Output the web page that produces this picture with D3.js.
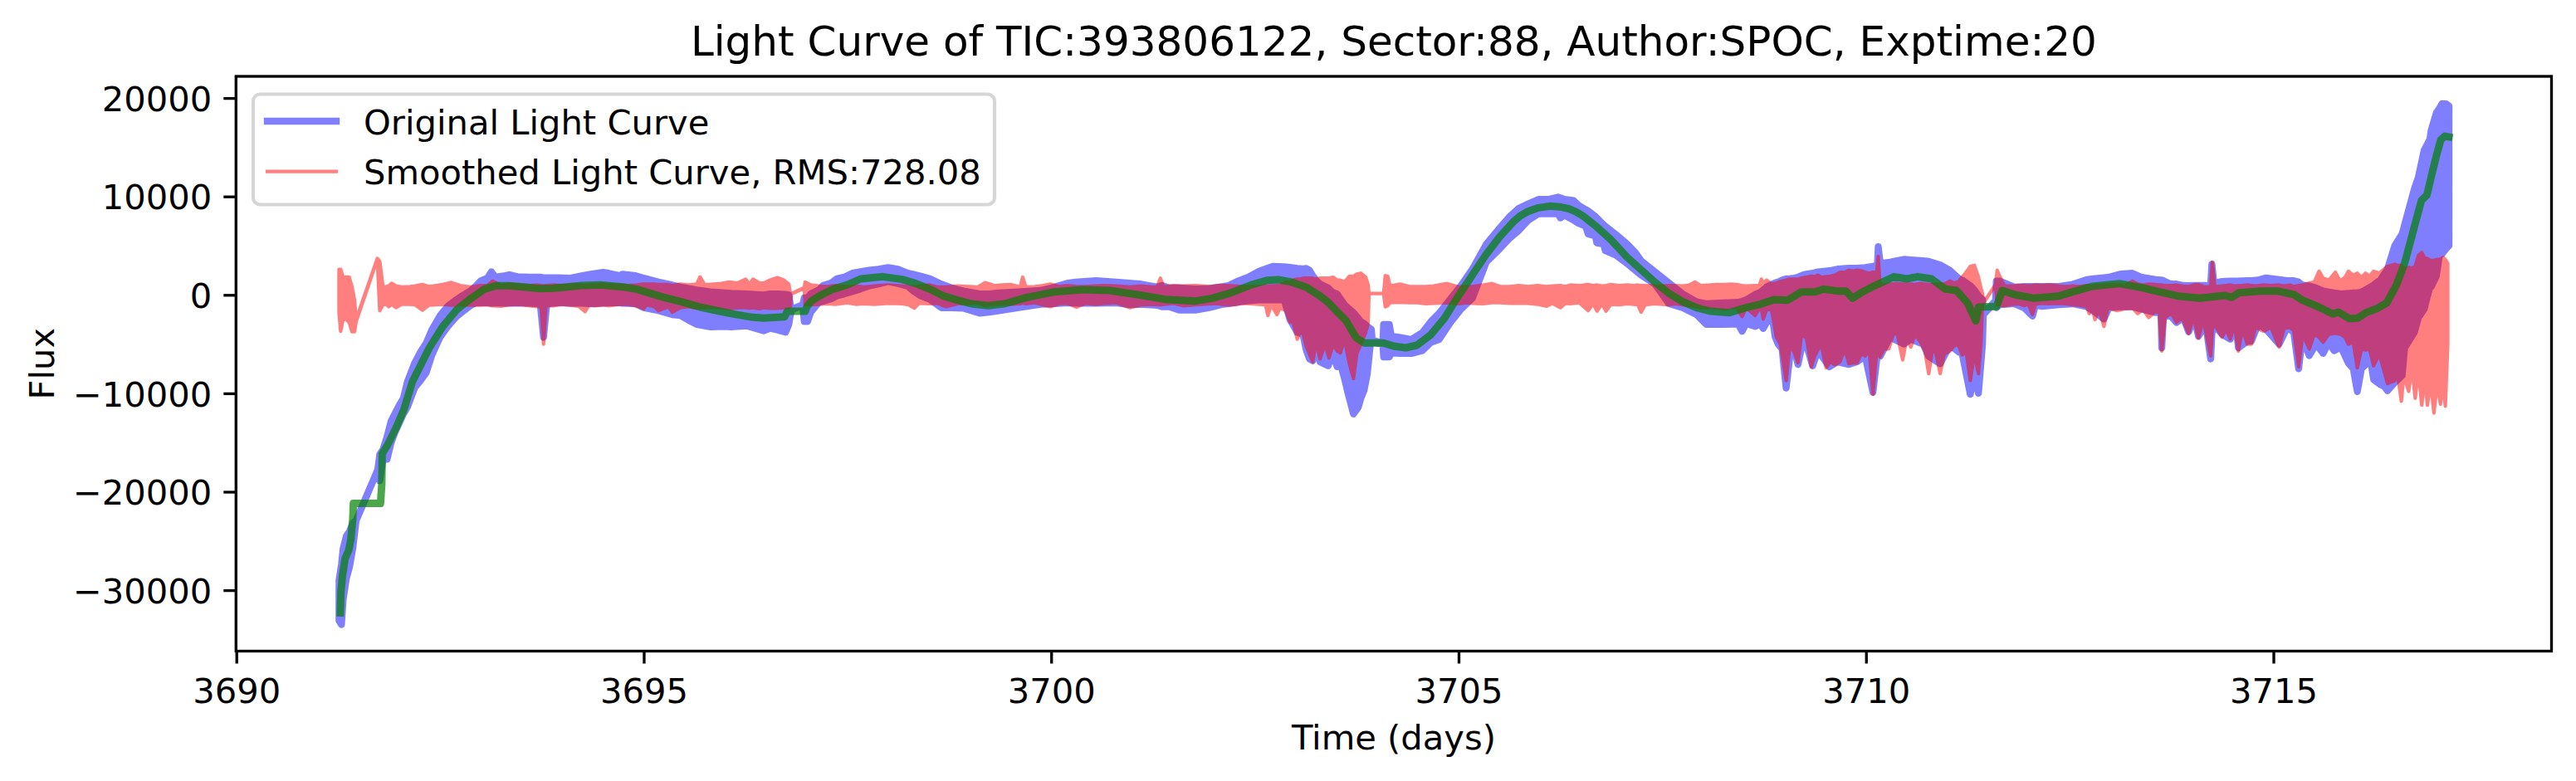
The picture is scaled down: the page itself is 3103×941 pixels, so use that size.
<!DOCTYPE html>
<html><head><meta charset="utf-8">
<script src="https://cdn.jsdelivr.net/npm/d3@7"></script>
<style>html,body{margin:0;background:#fff}svg{display:block}text{font-family:"DejaVu Sans";fill:#000}</style>
</head><body><svg id="c" width="3103" height="941"></svg>
<script>
const titleText="Light Curve of TIC:393806122, Sector:88, Author:SPOC, Exptime:20";
const xLabel="Time (days)", yLabel="Flux";
const legendLabels=["Original Light Curve","Smoothed Light Curve, RMS:728.08"];
const xTicks=[3690,3695,3700,3705,3710,3715];
const yTicks=[-30000,-20000,-10000,0,10000,20000];
// [time, upper envelope, lower envelope]
const blueBand=[[3691.26,-29000,-33100],[3691.29,-27400,-33500],[3691.31,-25800,-31000],[3691.35,-24500,-28800],[3691.39,-24000,-27600],[3691.43,-23200,-25700],[3691.47,-22900,-22950],[3691.735,-17750,-17800],[3691.76,-16200,-18900],[3691.8,-15700,-16700],[3691.85,-14400,-16700],[3691.9,-12800,-15000],[3691.95,-12000,-13900],[3692,-11200,-13000],[3692.05,-10500,-12100],[3692.1,-8800,-11400],[3692.19,-6900,-9400],[3692.26,-5800,-8700],[3692.33,-4900,-7900],[3692.4,-3540,-6100],[3692.5,-2100,-4300],[3692.6,-1100,-3150],[3692.7,-500,-2200],[3692.77,-100,-1740],[3692.87,390,-1100],[3692.94,900,-800],[3693,1430,-800],[3693.08,1700,-800],[3693.13,2350,-850],[3693.18,1800,-800],[3693.3,1950,-850],[3693.35,2050,-850],[3693.45,1850,-850],[3693.6,1800,-850],[3693.73,1800,-900],[3693.77,1750,-4300],[3693.81,1750,-900],[3693.95,1750,-800],[3694.1,1700,-850],[3694.25,1950,-850],[3694.35,2100,-900],[3694.5,2300,-850],[3694.57,2200,-800],[3694.7,1950,-800],[3694.74,2100,-850],[3694.9,1950,-900],[3695,1700,-1300],[3695.18,1300,-1600],[3695.35,1000,-2000],[3695.45,800,-2100],[3695.58,600,-2700],[3695.65,500,-3000],[3695.82,300,-3250],[3696,200,-3200],[3696.07,150,-3260],[3696.27,100,-3150],[3696.47,0,-3650],[3696.55,100,-3400],[3696.64,100,-3550],[3696.74,50,-3800],[3696.78,0,-3000],[3696.8,-1000,-2000],[3696.82,-1450,-1500],[3696.95,-1000,-1050],[3696.97,-300,-2700],[3697.01,-300,-2700],[3697.05,100,-1750],[3697.15,500,-750],[3697.2,950,-650],[3697.3,1200,-400],[3697.37,1650,-100],[3697.46,1800,100],[3697.56,2200,350],[3697.66,2350,600],[3697.76,2500,900],[3697.88,2600,1100],[3698,2770,1350],[3698.12,2600,1150],[3698.24,2200,900],[3698.3,2100,450],[3698.4,1900,-100],[3698.51,1650,-450],[3698.65,1100,-1300],[3698.78,700,-1300],[3698.92,400,-1350],[3699.12,100,-1850],[3699.24,100,-1750],[3699.36,200,-1600],[3699.6,300,-1300],[3699.87,450,-950],[3700,700,-900],[3700.21,1200,-800],[3700.3,1300,-850],[3700.55,1450,-850],[3700.8,1300,-800],[3700.96,1200,-1000],[3701.1,1100,-950],[3701.3,800,-1050],[3701.36,950,-1200],[3701.45,700,-1200],[3701.57,700,-1550],[3701.77,600,-1550],[3701.94,650,-1300],[3702.11,850,-950],[3702.18,950,-900],[3702.28,1360,-750],[3702.42,1800,-600],[3702.55,2400,-500],[3702.72,2900,-500],[3702.86,2850,-500],[3702.93,2800,-2500],[3703.02,2700,-3800],[3703.09,2650,-4000],[3703.13,2680,-5600],[3703.17,2500,-6500],[3703.21,1950,-6700],[3703.25,1500,-5000],[3703.3,1100,-6800],[3703.4,700,-7200],[3703.45,300,-6000],[3703.51,90,-7300],[3703.55,-400,-7000],[3703.6,-1000,-8500],[3703.64,-1300,-9900],[3703.71,-1800,-12100],[3703.77,-2400,-11400],[3703.8,-2700,-10500],[3703.84,-2900,-9700],[3703.88,-3200,-8000],[3703.93,-3500,-4000],[3703.94,-4600,-4800],[3704.07,-4900,-5000],[3704.08,-3000,-6300],[3704.15,-3000,-6300],[3704.175,-4200,-5900],[3704.285,-4320,-5950],[3704.42,-4540,-5950],[3704.555,-3840,-5670],[3704.66,-2710,-4820],[3704.76,-1870,-4540],[3704.895,-470,-2860],[3705.03,940,-1440],[3705.17,2620,-330],[3705.34,5150,3330],[3705.51,6840,4730],[3705.62,7900,5700],[3705.74,8800,6560],[3705.85,9230,7540],[3705.98,9700,8240],[3706.12,9730,8240],[3706.22,9930,8240],[3706.25,9850,7820],[3706.3,9700,8100],[3706.41,9590,7600],[3706.475,9090,7260],[3706.56,8670,6980],[3706.59,8530,6190],[3706.68,7960,6000],[3706.695,7820,5290],[3706.78,7120,5150],[3706.8,6980,4500],[3706.93,6140,4030],[3707.07,5150,3180],[3707.17,4300,2480],[3707.24,3470,2000],[3707.41,2340,1100],[3707.58,1220,-890],[3707.75,100,-1310],[3707.92,-700,-2010],[3708.04,-900,-3000],[3708.26,-800,-3000],[3708.43,-750,-2950],[3708.48,-650,-3700],[3708.53,-500,-2900],[3708.64,50,-3200],[3708.7,240,-2950],[3708.74,500,-3420],[3708.78,800,-2800],[3708.85,1100,-2300],[3708.885,1220,-4260],[3708.92,1300,-4960],[3708.97,1500,-5500],[3709.02,1640,-9460],[3709.07,1650,-5900],[3709.12,1700,-5500],[3709.165,1800,-7070],[3709.24,2060,-4200],[3709.345,2200,-7210],[3709.41,2340,-5660],[3709.55,2450,-7300],[3709.65,2620,-6790],[3709.79,2700,-7070],[3709.89,2720,-6790],[3709.99,2770,-6200],[3710.085,2900,-9900],[3710.14,3000,-6000],[3710.15,4900,-6000],[3710.175,3200,-6230],[3710.295,3330,-4300],[3710.465,3610,-5000],[3710.55,3550,-4500],[3710.7,3470,-5000],[3710.77,3400,-6230],[3710.91,3050,-7000],[3711.03,2480,-5100],[3711.14,1640,-5800],[3711.18,1500,-5950],[3711.28,940,-10100],[3711.33,500,-8000],[3711.38,-100,-10000],[3711.43,-470,-5000],[3711.44,-1900,-2000],[3711.59,-600,-700],[3711.6,1400,-1300],[3711.64,1400,-1000],[3711.82,800,-890],[3711.94,850,-1310],[3712.044,850,-2150],[3712.08,850,-1000],[3712.16,850,-1170],[3712.366,850,-1000],[3712.54,1080,-900],[3712.71,1557,-1200],[3712.81,1650,-1750],[3712.92,1750,-2450],[3712.98,1800,-1300],[3713.13,2120,-1200],[3713.27,2200,-1200],[3713.385,1780,-1450],[3713.555,1550,-1800],[3713.62,1500,-1800],[3713.63,1500,-5384],[3713.65,1450,-2300],[3713.725,1136,-2000],[3713.81,1100,-2800],[3713.895,950,-2300],[3713.96,940,-3750],[3714.03,950,-2300],[3714.08,950,-4200],[3714.17,950,-3000],[3714.23,1000,-6510],[3714.245,3130,-4000],[3714.27,1200,-3000],[3714.37,1360,-4000],[3714.47,1400,-4500],[3714.54,1400,-3000],[3714.57,1400,-5380],[3714.68,1445,-4700],[3714.73,1445,-4700],[3714.81,1500,-3000],[3714.91,1726,-3500],[3715.07,1550,-5000],[3715.17,1450,-3300],[3715.25,1440,-3800],[3715.31,1300,-7500],[3715.355,1000,-4300],[3715.44,900,-6170],[3715.525,700,-5000],[3715.61,400,-5950],[3715.68,300,-4800],[3715.745,200,-5665],[3715.83,100,-5300],[3715.92,150,-6930],[3715.98,200,-7500],[3716.03,200,-9825],[3716.08,300,-7500],[3716.13,500,-7100],[3716.19,800,-6500],[3716.23,1000,-8615],[3716.31,1500,-9100],[3716.36,2100,-9300],[3716.4,2625,-9740],[3716.49,5013,-8900],[3716.58,6200,-8200],[3716.61,7120,-5400],[3716.73,10774,-3800],[3716.78,12000,-2300],[3716.85,14708,-1450],[3716.92,15800,800],[3716.935,16675,800],[3717,18500,1900],[3717.04,19000,4170],[3717.07,19430,4170],[3717.12,19400,4700],[3717.155,19200,5010]];
const redBand=[[3691.26,2600,-1800],[3691.28,2600,-3700],[3691.31,1800,-2500],[3691.35,1800,-2500],[3691.385,1800,-2800],[3691.42,800,-3750],[3691.45,-500,-3750],[3691.47,-2500,-2700],[3691.73,3700,3600],[3691.76,3400,-1600],[3691.8,800,-1000],[3691.84,850,-950],[3691.87,900,-1200],[3691.905,1180,-950],[3691.96,900,-1300],[3692.03,800,-950],[3692.13,850,-950],[3692.19,900,-1000],[3692.285,1050,-1550],[3692.36,850,-1050],[3692.45,950,-1000],[3692.53,1050,-950],[3692.64,1260,-1050],[3692.75,950,-1000],[3692.87,800,-1050],[3693,950,-1050],[3693.08,950,-1000],[3693.145,1400,-1100],[3693.25,950,-1150],[3693.35,1100,-1000],[3693.48,1000,-950],[3693.6,950,-1100],[3693.7,1000,-1200],[3693.74,950,-1100],[3693.77,900,-5000],[3693.8,950,-1100],[3693.89,1000,-1100],[3694,950,-950],[3694.095,1000,-1050],[3694.2,1000,-1150],[3694.28,950,-1700],[3694.33,1000,-1000],[3694.4,1000,-1100],[3694.5,1100,-1000],[3694.57,1000,-1100],[3694.7,1000,-950],[3694.8,950,-950],[3694.91,1000,-1100],[3695,1100,-1400],[3695.03,1100,-1000],[3695.13,1100,-1200],[3695.18,1050,-1600],[3695.3,1050,-1200],[3695.35,950,-1750],[3695.45,1100,-1300],[3695.55,1000,-1200],[3695.65,1100,-1350],[3695.69,1824,-1300],[3695.75,1000,-1300],[3695.85,1100,-1250],[3695.95,1150,-1300],[3696.05,1300,-1400],[3696.15,1200,-1300],[3696.25,1600,-1300],[3696.3,1100,-1350],[3696.34,1600,-1300],[3696.42,1200,-1400],[3696.47,1200,-1300],[3696.55,1500,-1350],[3696.64,1750,-1350],[3696.72,1500,-1300],[3696.78,1100,-1300],[3696.8,100,-1200],[3696.81,120,80],[3696.97,750,700],[3696.98,1300,-1000],[3697.05,1000,-1000],[3697.15,900,-950],[3697.25,850,-900],[3697.35,950,-950],[3697.49,850,-800],[3697.6,900,-950],[3697.7,800,-900],[3697.83,900,-950],[3698,1000,-850],[3698.17,900,-900],[3698.25,850,-1000],[3698.32,800,-1350],[3698.38,900,-850],[3698.51,1000,-900],[3698.6,800,-850],[3698.71,800,-1200],[3698.85,900,-900],[3699,850,-850],[3699.1,800,-800],[3699.19,1250,-1050],[3699.3,950,-950],[3699.4,1000,-900],[3699.5,1050,-950],[3699.62,800,-900],[3699.65,1800,-800],[3699.69,800,-900],[3699.8,850,-800],[3699.9,950,-1000],[3699.99,1100,-1200],[3700.1,850,-900],[3700.2,950,-850],[3700.31,850,-1250],[3700.42,850,-850],[3700.55,900,-950],[3700.65,950,-850],[3700.8,900,-800],[3700.97,800,-1300],[3701.1,900,-1000],[3701.25,800,-950],[3701.3,800,-1000],[3701.34,1700,-1000],[3701.38,800,-950],[3701.5,950,-850],[3701.62,900,-1100],[3701.77,950,-1000],[3701.85,900,-950],[3701.95,850,-900],[3702.05,950,-900],[3702.15,950,-1000],[3702.25,900,-1000],[3702.35,850,-850],[3702.45,850,-900],[3702.55,850,-950],[3702.63,900,-1000],[3702.66,900,-2100],[3702.7,900,-1000],[3702.77,950,-2000],[3702.81,950,-1300],[3702.88,1300,-1600],[3702.93,1300,-2750],[3702.97,1500,-2800],[3703.02,1600,-4500],[3703.06,1600,-3700],[3703.09,1700,-3900],[3703.13,1700,-5200],[3703.21,1700,-6800],[3703.25,1600,-4800],[3703.3,1700,-6500],[3703.36,1700,-5000],[3703.41,1700,-6400],[3703.46,1800,-5000],[3703.51,1500,-5700],[3703.55,1500,-5900],[3703.6,1300,-4500],[3703.66,1900,-7000],[3703.71,1900,-8500],[3703.75,2100,-6000],[3703.8,2200,-5000],[3703.86,1800,-3800],[3703.89,1000,-2900],[3703.9,150,130],[3704.08,150,130],[3704.1,1950,-1200],[3704.13,1900,-1100],[3704.16,900,-800],[3704.28,1100,-750],[3704.4,850,-800],[3704.49,850,-800],[3704.6,850,-900],[3704.69,900,-850],[3704.86,1150,-800],[3705,800,-900],[3705.1,850,-800],[3705.17,850,-850],[3705.3,1000,-900],[3705.41,1150,-800],[3705.51,850,-800],[3705.62,850,-850],[3705.74,950,-850],[3705.85,850,-850],[3705.97,950,-950],[3706.08,850,-1150],[3706.15,900,-850],[3706.25,950,-1300],[3706.31,850,-850],[3706.37,1000,-900],[3706.48,950,-800],[3706.59,1050,-1600],[3706.65,950,-900],[3706.7,1000,-1650],[3706.76,900,-900],[3706.81,950,-1650],[3706.87,1050,-950],[3706.97,950,-1000],[3707.07,1000,-900],[3707.15,950,-950],[3707.2,1000,-1000],[3707.24,950,-1750],[3707.29,950,-1000],[3707.41,900,-900],[3707.5,900,-950],[3707.58,950,-1000],[3707.66,950,-900],[3707.75,900,-1000],[3707.83,1000,-1100],[3707.9,1300,-1200],[3707.97,950,-1300],[3708.09,1000,-1300],[3708.17,1050,-1300],[3708.26,1050,-1450],[3708.35,1100,-1250],[3708.41,1050,-1300],[3708.48,950,-2200],[3708.53,900,-1300],[3708.64,950,-2100],[3708.69,950,-1400],[3708.716,1600,-1400],[3708.74,1200,-2450],[3708.78,1500,-1500],[3708.84,1100,-1500],[3708.87,1150,-2800],[3708.9,1200,-4300],[3708.95,1350,-5000],[3709.02,1500,-8700],[3709.06,1600,-5500],[3709.11,1600,-5600],[3709.165,1600,-6900],[3709.21,1700,-4000],[3709.27,1800,-4400],[3709.33,1900,-7300],[3709.37,1850,-6200],[3709.41,2000,-5600],[3709.45,1800,-5000],[3709.51,1850,-7400],[3709.56,1900,-6800],[3709.62,2000,-7100],[3709.68,2300,-6800],[3709.74,2300,-5500],[3709.79,2500,-7000],[3709.84,2400,-6900],[3709.89,2500,-6900],[3709.94,2450,-6000],[3709.99,2300,-6200],[3710.04,2200,-5600],[3710.085,2300,-10100],[3710.13,2200,-5800],[3710.15,3900,-5800],[3710.17,1200,-6300],[3710.22,1000,-5500],[3710.28,1100,-5500],[3710.33,1100,-4100],[3710.38,1150,-3800],[3710.45,1100,-6600],[3710.5,1100,-4400],[3710.55,1100,-5300],[3710.6,1050,-4000],[3710.67,1150,-4800],[3710.72,1100,-5600],[3710.77,1050,-8000],[3710.82,1050,-5300],[3710.86,1050,-6000],[3710.91,1100,-8000],[3710.96,1100,-6000],[3711.03,1400,-5700],[3711.08,1200,-5200],[3711.13,1300,-5000],[3711.18,1800,-6100],[3711.23,2300,-5800],[3711.28,2900,-8700],[3711.33,3000,-6000],[3711.38,1800,-8000],[3711.41,700,-5000],[3711.43,150,-800],[3711.44,-800,-850],[3711.59,1050,1000],[3711.61,2500,-1000],[3711.64,1900,-1000],[3711.7,900,-1100],[3711.8,900,-950],[3711.88,950,-900],[3711.94,950,-1100],[3711.99,900,-900],[3712.044,950,-2000],[3712.08,1000,-950],[3712.15,950,-850],[3712.25,1000,-900],[3712.366,900,-850],[3712.45,850,-900],[3712.54,900,-1000],[3712.62,850,-1050],[3712.71,950,-1200],[3712.74,900,-1900],[3712.78,900,-1400],[3712.81,950,-2500],[3712.86,950,-1500],[3712.92,1000,-3200],[3712.97,1000,-1300],[3713.08,1050,-1600],[3713.18,950,-1400],[3713.27,1400,-1350],[3713.335,1100,-1900],[3713.4,1000,-1500],[3713.47,1100,-2300],[3713.55,1050,-1700],[3713.6,1000,-1800],[3713.63,1000,-5700],[3713.67,950,-2300],[3713.75,950,-1900],[3713.81,1000,-2800],[3713.88,900,-2300],[3713.96,850,-3900],[3714.02,1000,-2300],[3714.08,1050,-4400],[3714.14,850,-2500],[3714.23,800,-6200],[3714.25,3300,-3500],[3714.28,850,-3000],[3714.37,900,-4300],[3714.42,950,-3500],[3714.47,1000,-4500],[3714.52,900,-3000],[3714.57,950,-5700],[3714.62,950,-3500],[3714.68,1000,-5000],[3714.73,950,-5000],[3714.78,900,-3300],[3714.88,1000,-3700],[3714.97,950,-3300],[3715.07,1000,-5300],[3715.13,900,-3400],[3715.2,1000,-3300],[3715.25,850,-3600],[3715.31,950,-7300],[3715.36,1000,-4000],[3715.44,1200,-5500],[3715.5,1300,-4000],[3715.56,2400,-4300],[3715.61,1700,-4800],[3715.68,1500,-4000],[3715.76,2300,-3900],[3715.82,1400,-4000],[3715.88,1800,-4300],[3715.92,2400,-5000],[3715.98,2000,-4800],[3716.03,2200,-7400],[3716.08,1800,-5500],[3716.13,2200,-5600],[3716.18,1900,-5500],[3716.23,2400,-7200],[3716.3,2200,-6000],[3716.4,2900,-9000],[3716.49,3100,-8700],[3716.52,3000,-7800],[3716.57,3000,-10800],[3716.6,2600,-8200],[3716.66,2800,-9800],[3716.7,2700,-7300],[3716.74,2900,-10500],[3716.78,4000,-7700],[3716.82,4300,-11200],[3716.86,3700,-8500],[3716.89,3700,-11200],[3716.93,3500,-8800],[3716.97,3500,-12000],[3717.01,3600,-9000],[3717.05,3600,-11100],[3717.08,3800,-9000],[3717.11,3600,-11300],[3717.14,3200,-5000]];
// [time, flux]
const greenTrend=[[3691.276,-32290],[3691.283,-30180],[3691.303,-28500],[3691.334,-26800],[3691.378,-25970],[3691.405,-24840],[3691.429,-22740],[3691.436,-21190],[3691.769,-21190],[3691.785,-19220],[3691.79,-16130],[3691.853,-15290],[3691.955,-13600],[3692.057,-11640],[3692.16,-8826],[3692.262,-7140],[3692.364,-5450],[3692.533,-3206],[3692.703,-1520],[3692.873,-396],[3693.043,587],[3693.179,925],[3693.348,925],[3693.552,784],[3693.722,644],[3693.892,672],[3694.062,812],[3694.232,953],[3694.469,1009],[3694.741,812],[3694.911,587],[3695.08,166],[3695.25,-256],[3695.454,-677],[3695.692,-1239],[3695.93,-1660],[3696.1,-1942],[3696.337,-2279],[3696.473,-2363],[3696.728,-2223],[3696.762,-1660],[3696.982,-1660],[3696.999,-1239],[3697.05,-677],[3697.152,-115],[3697.322,587],[3697.492,1009],[3697.662,1627],[3697.933,1852],[3698.171,1571],[3698.341,1150],[3698.511,587],[3698.68,-115],[3698.85,-537],[3699.02,-902],[3699.224,-1099],[3699.428,-902],[3699.7,-256],[3700.04,306],[3700.378,531],[3700.718,447],[3701.058,26],[3701.397,-452],[3701.771,-621],[3701.975,-340],[3702.212,222],[3702.45,1009],[3702.654,1487],[3702.79,1543],[3702.926,1346],[3703.13,784],[3703.3,-115],[3703.401,-761],[3703.503,-1660],[3703.622,-2644],[3703.741,-4330],[3703.843,-4892],[3704.08,-4892],[3704.216,-5229],[3704.352,-5370],[3704.488,-5117],[3704.658,-4049],[3704.827,-2363],[3704.997,-115],[3705.167,1992],[3705.337,4100],[3705.507,5926],[3705.677,7472],[3705.76,8050],[3705.846,8456],[3705.98,8850],[3706.118,9017],[3706.24,8950],[3706.356,8737],[3706.44,8450],[3706.525,8034],[3706.695,6910],[3706.865,5645],[3707.069,3819],[3707.24,2555],[3707.409,1290],[3707.58,166],[3707.748,-677],[3707.918,-1295],[3708.088,-1660],[3708.326,-1801],[3708.529,-1295],[3708.699,-958],[3708.869,-480],[3709.039,-537],[3709.208,306],[3709.378,306],[3709.48,587],[3709.65,391],[3709.752,391],[3709.837,-340],[3709.956,306],[3710.125,1009],[3710.346,1852],[3710.499,1627],[3710.635,1852],[3710.805,1627],[3710.974,587],[3711.11,447],[3711.246,-818],[3711.348,-2644],[3711.382,-1239],[3711.603,-1183],[3711.671,447],[3711.823,26],[3712.061,-340],[3712.366,-115],[3712.537,307],[3712.775,869],[3713.114,1150],[3713.386,728],[3713.556,391],[3713.827,-115],[3714.099,-340],[3714.405,-59],[3714.49,-256],[3714.574,222],[3714.846,391],[3715.05,391],[3715.254,25],[3715.356,-537],[3715.559,-1239],[3715.729,-1942],[3715.797,-1745],[3715.933,-2419],[3716.035,-2363],[3716.137,-1801],[3716.273,-1380],[3716.391,-818],[3716.51,1009],[3716.612,3257],[3716.748,7472],[3716.816,9580],[3716.884,10141],[3716.952,12530],[3717.003,14216],[3717.054,15761],[3717.105,16127],[3717.155,16042]];

const W=3103,H=941,L=284.3,R=3073.5,T=92,B=784.5,FS=41.67;
const x=d3.scaleLinear().domain([3690,3715]).range([284.7,2738.5]);
const y=d3.scaleLinear().domain([0,20000]).range([355.3,118.1]);
const svg=d3.select("#c");
const band=d3.area().x(d=>x(d[0])).y0(d=>y(d[2])).y1(d=>y(d[1]));
const line=d3.line().x(d=>x(d[0])).y(d=>y(d[1]));

svg.append("g").attr("opacity",0.5).append("path").datum(blueBand).attr("d",band)
  .attr("fill","#0000ff").attr("stroke","#0000ff").attr("stroke-width",8.33).attr("stroke-linejoin","round");
svg.append("g").attr("opacity",0.5).append("path").datum(redBand).attr("d",band)
  .attr("fill","#ff0000").attr("stroke","#ff0000").attr("stroke-width",4.17).attr("stroke-linejoin","round");
svg.append("path").datum(greenTrend).attr("d",line).attr("fill","none")
  .attr("stroke","#008000").attr("stroke-opacity",0.7).attr("stroke-width",9)
  .attr("stroke-linejoin","round").attr("stroke-linecap","square");

// axes
const xAxis=svg.append("g").attr("transform",`translate(0,${B})`)
  .call(d3.axisBottom(x).tickValues(xTicks).tickFormat(d3.format("d")).tickSize(15).tickPadding(17.5));
const yAxis=svg.append("g").attr("transform",`translate(${L},0)`)
  .call(d3.axisLeft(y).tickValues(yTicks).tickFormat(d3.format("d")).tickSize(15).tickPadding(14));
[xAxis,yAxis].forEach(a=>{
  a.select(".domain").remove();
  a.selectAll("line").attr("stroke","#000").attr("stroke-width",3.33);
  a.selectAll("text").attr("font-family","DejaVu Sans").attr("font-size",FS).attr("fill","#000");
});
yAxis.selectAll("text").attr("dy","15.2");
svg.append("rect").attr("x",L).attr("y",T).attr("width",R-L).attr("height",B-T)
  .attr("fill","none").attr("stroke","#000").attr("stroke-width",3.33);

// texts
svg.append("text").attr("x",(L+R)/2).attr("y",67).attr("text-anchor","middle").attr("font-size",50).text(titleText);
svg.append("text").attr("x",(L+R)/2).attr("y",903).attr("text-anchor","middle").attr("font-size",FS).text(xLabel);
svg.append("text").attr("transform",`translate(64.5,${(T+B)/2}) rotate(-90)`).attr("text-anchor","middle").attr("font-size",FS).text(yLabel);

// legend
const lg=svg.append("g");
lg.append("rect").attr("x",305).attr("y",113.5).attr("width",893).attr("height",133).attr("rx",8.3)
  .attr("fill","#fff").attr("fill-opacity",0.8).attr("stroke","#ccc").attr("stroke-opacity",0.8).attr("stroke-width",4.17);
const rows=[{c:"#0000ff",w:8.33,ly:146,by:161.5},{c:"#ff0000",w:4.17,ly:206.7,by:221.5}];
rows.forEach((r,i)=>{
  lg.append("line").attr("x1",322).attr("x2",405).attr("y1",r.ly).attr("y2",r.ly)
    .attr("stroke",r.c).attr("stroke-opacity",0.5).attr("stroke-width",r.w).attr("stroke-linecap","square");
  lg.append("text").attr("x",438).attr("y",r.by).attr("font-size",FS).text(legendLabels[i]);
});
</script></body></html>
